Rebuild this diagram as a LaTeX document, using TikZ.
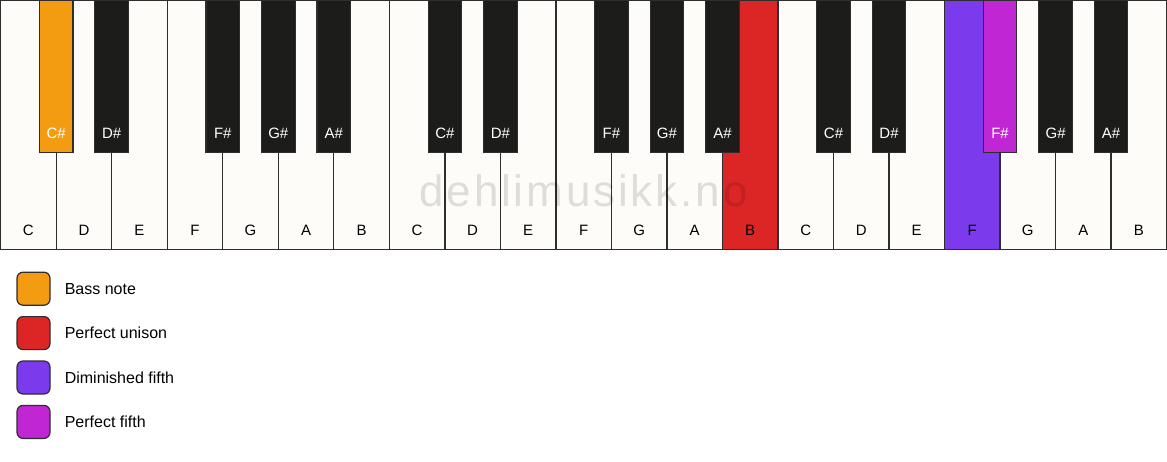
\documentclass[tikz,border=0pt]{standalone}
\usepackage{fontspec}
\setmainfont{Liberation Sans}
\newfontfamily\wmfont[LetterSpace=6.5]{Liberation Sans}
\usetikzlibrary{positioning}

\definecolor{keywhite}{HTML}{FDFCF9}
\definecolor{keyblack}{HTML}{1C1C1A}
\definecolor{keyline}{HTML}{2E2E2E}
\definecolor{bassnote}{HTML}{F39C12}
\definecolor{unison}{HTML}{DC2626}
\definecolor{dimfifth}{HTML}{7C3AED}
\definecolor{perffifth}{HTML}{C026D3}

\tikzset{
  whitekey/.style={draw=keyline, line width=1.3pt, fill=keywhite, anchor=north west,
    minimum width=55.52pt, minimum height=249pt, inner sep=0pt, outer sep=0pt},
  blackkey/.style={draw=keyline, line width=1.1pt, fill=keyblack, anchor=north,
    minimum width=33.6pt, minimum height=152.5pt, inner sep=0pt, outer sep=0pt},
  whitelabel/.style={font=\fontsize{15}{18}\selectfont, text=black},
  blacklabel/.style={font=\fontsize{15}{18}\selectfont, text=white},
  legendbox/.style={draw=keyline, line width=1.2pt, rounded corners=6pt,
    minimum width=33pt, minimum height=33pt, inner sep=0pt},
  legendtext/.style={font=\fontsize{16}{19}\selectfont, anchor=west, inner sep=0pt},
  watermark/.style={font=\wmfont\fontsize{44}{50}\selectfont, text=black, text opacity=0.12}
}

\begin{document}
\begin{tikzpicture}[x=1pt, y=-1pt]
\useasboundingbox[fill=white] (0,0) rectangle (1167,461);

% White keys, three octaves
\foreach \o in {0,1,2} {
    \foreach \k/\n in {0/C,1/D,2/E,3/F,4/G,5/A,6/B} {
        \pgfmathtruncatemacro{\idx}{\o*7 + \k}
        \def\kfill{keywhite}
        \ifnum\idx=13 \def\kfill{unison}\fi
        \ifnum\idx=17 \def\kfill{dimfifth}\fi
        \node[whitekey, fill=\kfill] (w\idx) at (\idx*55.52 + 0.7, 0.7) {};
        \node[whitelabel] (lw\idx) at (\idx*55.52 + 28.4, 230) {\n};
    }
}

% Watermark
\node[watermark] (wm) at (583.5, 191) {dehlimusikk.no};

% Black keys
\foreach \o in {0,1,2} {
    \foreach \k/\n in {1/C,2/D,4/F,5/G,6/A} {
        \pgfmathtruncatemacro{\idx}{\o*7 + \k}
        \def\kfill{keyblack}
        \ifnum\idx=1 \def\kfill{bassnote}\fi
        \ifnum\idx=18 \def\kfill{perffifth}\fi
        \node[blackkey, fill=\kfill] (b\idx) at (\idx*55.52 + 0.7, 0.3) {};
        \node[blacklabel] (lb\idx) at (\idx*55.52 + 0.7, 133) {\n\#};
    }
}

% Legend
\foreach \i/\c/\t in {0/bassnote/Bass note, 1/unison/Perfect unison,
                      2/dimfifth/Diminished fifth, 3/perffifth/Perfect fifth} {
    \node[legendbox, fill=\c] (key\i) at (33.5, 288.7 + \i*44.4) {};
    \node[legendtext, right=14pt of key\i] (txt\i) {\t};
}

\end{tikzpicture}
\end{document}
